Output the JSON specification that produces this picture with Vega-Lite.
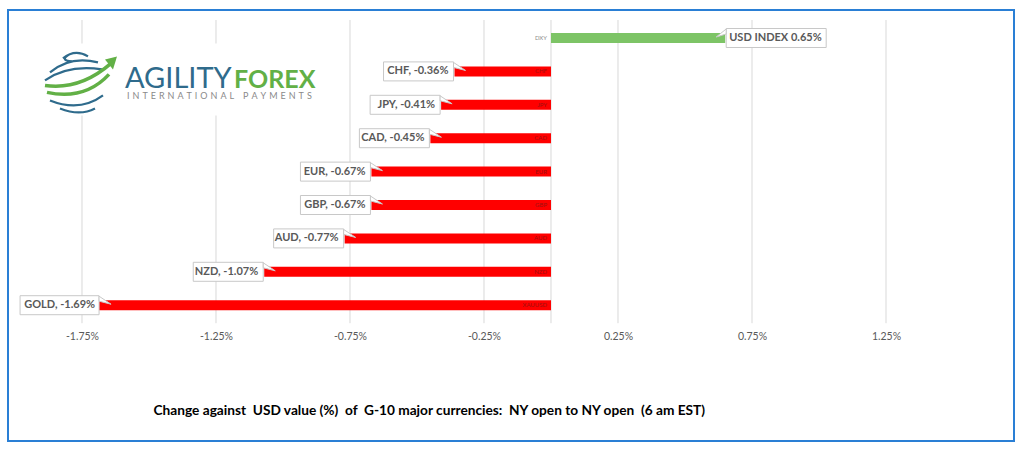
{
  "$schema": "https://vega.github.io/schema/vega-lite/v6.json",
  "width": 1006,
  "height": 431,
  "autosize": {"type": "none"},
  "padding": {"left": 8, "top": 10, "right": 10, "bottom": 17},
  "background": "white",
  "config": {"view": {"stroke": "#2a7fd5", "strokeWidth": 2}, "font": "Lato", "axisY": {"disable": true}},
  "datasets": {
    "fx": [
      {"code": "DXY", "label": "USD INDEX 0.65%", "value": 0.65},
      {"code": "CHF", "label": "CHF, -0.36%", "value": -0.36},
      {"code": "JPY", "label": "JPY, -0.41%", "value": -0.41},
      {"code": "CAD", "label": "CAD, -0.45%", "value": -0.45},
      {"code": "EUR", "label": "EUR, -0.67%", "value": -0.67},
      {"code": "GBP", "label": "GBP, -0.67%", "value": -0.67},
      {"code": "AUD", "label": "AUD, -0.77%", "value": -0.77},
      {"code": "NZD", "label": "NZD, -1.07%", "value": -1.07},
      {"code": "XAUUSD", "label": "GOLD, -1.69%", "value": -1.69}
    ],
    "ticks": [
      {"t": -1.75}, {"t": -1.25}, {"t": -0.75}, {"t": -0.25}, {"t": 0},
      {"t": 0.25}, {"t": 0.75}, {"t": 1.25}
    ]
  },
  "layer": [
    {
      "data": {"name": "ticks"},
      "transform": [{"calculate": "'DXY'", "as": "first"}, {"calculate": "'XAUUSD'", "as": "last"}],
      "mark": {"type": "rule", "color": "#d9d9d9", "strokeWidth": 1, "yOffset": -18, "y2Offset": 18},
      "encoding": {
        "x": {"field": "t", "type": "quantitative", "title": "Change against\u00a0 USD value (%)\u00a0 of\u00a0 G-10 major currencies:\u00a0 NY open to NY open\u00a0 (6 am EST)"},
        "y": {"field": "first", "type": "nominal", "axis": null},
        "y2": {"field": "last"}
      }
    },
    {
      "data": {"name": "fx"},
      "transform": [{"filter": "datum.code == 'CHF'"}],
      "mark": {"type": "bar", "fill": "white", "height": 72, "yOffset": 8},
      "encoding": {
        "x": {"datum": -1.907, "type": "quantitative", "title": "Change against\u00a0 USD value (%)\u00a0 of\u00a0 G-10 major currencies:\u00a0 NY open to NY open\u00a0 (6 am EST)"},
        "x2": {"datum": -0.862},
        "y": {"field": "code", "type": "nominal", "axis": null}
      }
    },
    {
      "data": {"name": "fx"},
      "transform": [{"filter": "datum.code == 'CHF'"}],
      "mark": {"type": "point", "shape": "M -17 -24 Q -5 -34 8 -26 M -30 -10 Q -10 -27 18 -20 M -35 -2 Q -12 -18 22 -13 M -30 18 Q 0 30 23 13 M -20 26 Q 0 34 15 26 M -12 -27 Q -20 -22 -8 -21", "size": 4, "filled": false, "stroke": "#2f6b8c", "strokeWidth": 2.2, "opacity": 1, "yOffset": 11},
      "encoding": {"x": {"datum": -1.7575, "type": "quantitative", "title": "Change against\u00a0 USD value (%)\u00a0 of\u00a0 G-10 major currencies:\u00a0 NY open to NY open\u00a0 (6 am EST)"}, "y": {"field": "code", "type": "nominal", "axis": null}}
    },
    {
      "data": {"name": "fx"},
      "transform": [{"filter": "datum.code == 'CHF'"}],
      "mark": {"type": "point", "shape": "M -35 3 Q 0 8 31 -19 M -33 10 Q 5 18 29 -8", "size": 4, "filled": false, "stroke": "#62b046", "strokeWidth": 3.5, "opacity": 1, "yOffset": 11},
      "encoding": {"x": {"datum": -1.7575, "type": "quantitative", "title": "Change against\u00a0 USD value (%)\u00a0 of\u00a0 G-10 major currencies:\u00a0 NY open to NY open\u00a0 (6 am EST)"}, "y": {"field": "code", "type": "nominal", "axis": null}}
    },
    {
      "data": {"name": "fx"},
      "transform": [{"filter": "datum.code == 'CHF'"}],
      "mark": {"type": "point", "shape": "M 37 -26 L 25 -23 L 33 -13 Z", "size": 4, "filled": true, "fill": "#62b046", "strokeWidth": 0, "opacity": 1, "yOffset": 11},
      "encoding": {"x": {"datum": -1.7575, "type": "quantitative", "title": "Change against\u00a0 USD value (%)\u00a0 of\u00a0 G-10 major currencies:\u00a0 NY open to NY open\u00a0 (6 am EST)"}, "y": {"field": "code", "type": "nominal", "axis": null}}
    },
    {
      "data": {"name": "fx"},
      "transform": [{"filter": "datum.code == 'CHF'"}],
      "mark": {"type": "text", "text": "AGILITY", "align": "left", "baseline": "alphabetic", "dy": 17, "fontSize": 29, "font": "Lato", "color": "#2f6b8c"},
      "encoding": {"x": {"datum": -1.5896, "type": "quantitative", "title": "Change against\u00a0 USD value (%)\u00a0 of\u00a0 G-10 major currencies:\u00a0 NY open to NY open\u00a0 (6 am EST)"}, "y": {"field": "code", "type": "nominal", "axis": null}}
    },
    {
      "data": {"name": "fx"},
      "transform": [{"filter": "datum.code == 'CHF'"}],
      "mark": {"type": "text", "text": "FOREX", "align": "left", "baseline": "alphabetic", "dy": 17, "fontSize": 25, "font": "Lato", "fontWeight": "bold", "color": "#62b046"},
      "encoding": {"x": {"datum": -1.1828, "type": "quantitative", "title": "Change against\u00a0 USD value (%)\u00a0 of\u00a0 G-10 major currencies:\u00a0 NY open to NY open\u00a0 (6 am EST)"}, "y": {"field": "code", "type": "nominal", "axis": null}}
    },
    {
      "data": {"name": "fx"},
      "transform": [{"filter": "datum.code == 'CHF'"}],
      "mark": {"type": "text", "text": "I\u2004N\u2004T\u2004E\u2004R\u2004N\u2004A\u2004T\u2004I\u2004O\u2004N\u2004A\u2004L\u2004\u2004\u2004P\u2004A\u2004Y\u2004M\u2004E\u2004N\u2004T\u2004S", "align": "left", "baseline": "alphabetic", "dy": 28, "fontSize": 9, "font": "Lato", "color": "#8a8a8a"},
      "encoding": {"x": {"datum": -1.582, "type": "quantitative", "title": "Change against\u00a0 USD value (%)\u00a0 of\u00a0 G-10 major currencies:\u00a0 NY open to NY open\u00a0 (6 am EST)"}, "y": {"field": "code", "type": "nominal", "axis": null}}
    },
    {
      "data": {"name": "fx"},
      "mark": {"type": "bar", "height": 10},
      "encoding": {
        "x": {
          "field": "value", "type": "quantitative",
          "title": "Change against\u00a0 USD value (%)\u00a0 of\u00a0 G-10 major currencies:\u00a0 NY open to NY open\u00a0 (6 am EST)",
          "scale": {"domain": [-2.0261, 1.7276], "nice": false, "zero": false},
          "axis": {
            "values": [-1.75, -1.25, -0.75, -0.25, 0.25, 0.75, 1.25],
            "orient": "bottom", "offset": -110, "grid": false, "domain": false, "ticks": false,
            "labelPadding": 0, "labelFlush": false,
            "labelExpr": "(datum.value < 0 ? '-' : '') + format(abs(datum.value), '.2f') + '%'",
            "labelFont": "Lato", "labelFontSize": 10.5, "labelColor": "#595959", "labelBaseline": "top",
            "title": "Change against\u00a0 USD value (%)\u00a0 of\u00a0 G-10 major currencies:\u00a0 NY open to NY open\u00a0 (6 am EST)",
            "titleFont": "Lato", "titleFontSize": 13.7, "titleFontWeight": "bold", "titleColor": "#000000",
            "titleAnchor": "start", "titleAlign": "left", "titleX": 145, "titleY": 79, "titleBaseline": "middle"
          }
        },
        "y": {
          "field": "code", "type": "nominal", "axis": null,
          "scale": {"domain": ["DXY", "CHF", "JPY", "CAD", "EUR", "GBP", "AUD", "NZD", "XAUUSD"], "range": [23, 300.22], "paddingInner": 0.7, "paddingOuter": 0, "round": false}
        },
        "color": {"condition": {"test": "datum.value > 0", "value": "#7dc466"}, "value": "#ff0000"}
      }
    },
    {
      "data": {"name": "fx"},
      "mark": {"type": "text", "align": "right", "baseline": "middle", "dx": -4, "fontSize": 6, "font": "Lato"},
      "encoding": {
        "x": {"datum": 0, "type": "quantitative", "title": "Change against\u00a0 USD value (%)\u00a0 of\u00a0 G-10 major currencies:\u00a0 NY open to NY open\u00a0 (6 am EST)"},
        "y": {"field": "code", "type": "nominal", "axis": null},
        "text": {"field": "code"},
        "color": {"condition": {"test": "datum.value > 0", "value": "#8c8c8c"}, "value": "#a01010"}
      }
    },
    {
      "data": {"name": "fx"},
      "transform": [{"filter": "datum.value < 0 && datum.code != 'XAUUSD'"}],
      "mark": {"type": "bar", "height": 19, "fill": "white", "stroke": "#c8c8c8", "strokeWidth": 1, "xOffset": -71, "x2Offset": -1},
      "encoding": {
        "x": {"field": "value", "type": "quantitative", "title": "Change against\u00a0 USD value (%)\u00a0 of\u00a0 G-10 major currencies:\u00a0 NY open to NY open\u00a0 (6 am EST)"},
        "x2": {"field": "value"},
        "y": {"field": "code", "type": "nominal", "axis": null}
      }
    },
    {
      "data": {"name": "fx"},
      "transform": [{"filter": "datum.value < 0 && datum.code != 'XAUUSD'"}],
      "mark": {"type": "point", "shape": "M -1 -9 L 11 -1 L -1 -4 Z", "size": 4, "filled": true, "fill": "white", "stroke": "#c8c8c8", "strokeWidth": 1, "opacity": 1},
      "encoding": {
        "x": {"field": "value", "type": "quantitative", "title": "Change against\u00a0 USD value (%)\u00a0 of\u00a0 G-10 major currencies:\u00a0 NY open to NY open\u00a0 (6 am EST)"},
        "y": {"field": "code", "type": "nominal", "axis": null}
      }
    },
    {
      "data": {"name": "fx"},
      "transform": [{"filter": "datum.value < 0 && datum.code != 'XAUUSD'"}],
      "mark": {"type": "text", "align": "right", "baseline": "middle", "dx": -6, "fontSize": 11, "fontWeight": "bold", "font": "Lato", "color": "#595959"},
      "encoding": {
        "x": {"field": "value", "type": "quantitative", "title": "Change against\u00a0 USD value (%)\u00a0 of\u00a0 G-10 major currencies:\u00a0 NY open to NY open\u00a0 (6 am EST)"},
        "y": {"field": "code", "type": "nominal", "axis": null},
        "text": {"field": "label"}
      }
    },
    {
      "data": {"name": "fx"},
      "transform": [{"filter": "datum.code == 'XAUUSD'"}],
      "mark": {"type": "bar", "height": 19, "fill": "white", "stroke": "#c8c8c8", "strokeWidth": 1, "xOffset": -78, "x2Offset": 1},
      "encoding": {
        "x": {"field": "value", "type": "quantitative", "title": "Change against\u00a0 USD value (%)\u00a0 of\u00a0 G-10 major currencies:\u00a0 NY open to NY open\u00a0 (6 am EST)"},
        "x2": {"field": "value"},
        "y": {"field": "code", "type": "nominal", "axis": null}
      }
    },
    {
      "data": {"name": "fx"},
      "transform": [{"filter": "datum.code == 'XAUUSD'"}],
      "mark": {"type": "point", "shape": "M 1 -9 L 13 -1 L 1 -4 Z", "size": 4, "filled": true, "fill": "white", "stroke": "#c8c8c8", "strokeWidth": 1, "opacity": 1},
      "encoding": {
        "x": {"field": "value", "type": "quantitative", "title": "Change against\u00a0 USD value (%)\u00a0 of\u00a0 G-10 major currencies:\u00a0 NY open to NY open\u00a0 (6 am EST)"},
        "y": {"field": "code", "type": "nominal", "axis": null}
      }
    },
    {
      "data": {"name": "fx"},
      "transform": [{"filter": "datum.code == 'XAUUSD'"}],
      "mark": {"type": "text", "align": "right", "baseline": "middle", "dx": -3, "fontSize": 11, "fontWeight": "bold", "font": "Lato", "color": "#595959"},
      "encoding": {
        "x": {"field": "value", "type": "quantitative", "title": "Change against\u00a0 USD value (%)\u00a0 of\u00a0 G-10 major currencies:\u00a0 NY open to NY open\u00a0 (6 am EST)"},
        "y": {"field": "code", "type": "nominal", "axis": null},
        "text": {"field": "label"}
      }
    },
    {
      "data": {"name": "fx"},
      "transform": [{"filter": "datum.value > 0"}],
      "mark": {"type": "bar", "height": 19, "fill": "white", "stroke": "#c8c8c8", "strokeWidth": 1, "xOffset": 1, "x2Offset": 101},
      "encoding": {
        "x": {"field": "value", "type": "quantitative", "title": "Change against\u00a0 USD value (%)\u00a0 of\u00a0 G-10 major currencies:\u00a0 NY open to NY open\u00a0 (6 am EST)"},
        "x2": {"field": "value"},
        "y": {"field": "code", "type": "nominal", "axis": null}
      }
    },
    {
      "data": {"name": "fx"},
      "transform": [{"filter": "datum.value > 0"}],
      "mark": {"type": "point", "shape": "M 1 -9 L -9 -1 L 1 -4 Z", "size": 4, "filled": true, "fill": "white", "stroke": "#c8c8c8", "strokeWidth": 1, "opacity": 1},
      "encoding": {
        "x": {"field": "value", "type": "quantitative", "title": "Change against\u00a0 USD value (%)\u00a0 of\u00a0 G-10 major currencies:\u00a0 NY open to NY open\u00a0 (6 am EST)"},
        "y": {"field": "code", "type": "nominal", "axis": null}
      }
    },
    {
      "data": {"name": "fx"},
      "transform": [{"filter": "datum.value > 0"}],
      "mark": {"type": "text", "align": "left", "baseline": "middle", "dx": 4, "fontSize": 11, "fontWeight": "bold", "font": "Lato", "color": "#595959"},
      "encoding": {
        "x": {"field": "value", "type": "quantitative", "title": "Change against\u00a0 USD value (%)\u00a0 of\u00a0 G-10 major currencies:\u00a0 NY open to NY open\u00a0 (6 am EST)"},
        "y": {"field": "code", "type": "nominal", "axis": null},
        "text": {"field": "label"}
      }
    }
  ]
}
